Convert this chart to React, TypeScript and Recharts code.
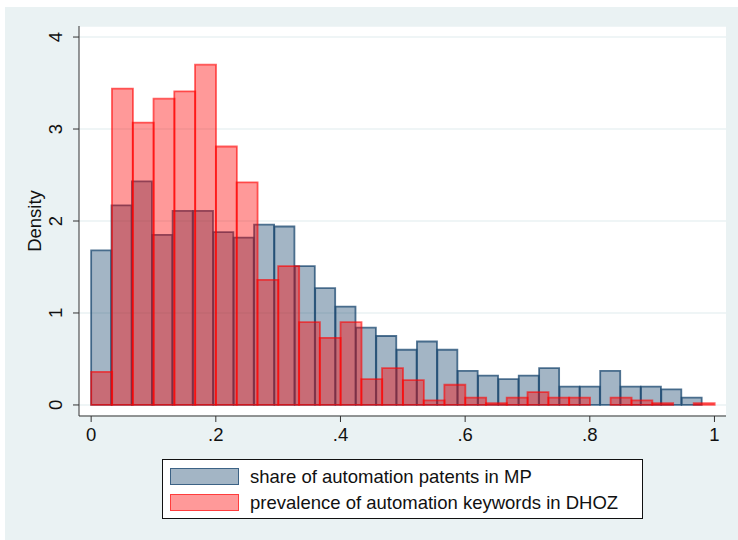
import { ComposedChart, Bar, XAxis, YAxis, CartesianGrid } from "recharts"

// bin midpoints and densities
const mpMid = [
  0.0163, 0.049, 0.0817, 0.1143, 0.147, 0.1797, 0.2123, 0.245, 0.2777, 0.3103,
  0.343, 0.3757, 0.4083, 0.441, 0.4737, 0.5063, 0.539, 0.5717, 0.6043, 0.637,
  0.6697, 0.7023, 0.735, 0.7677, 0.8003, 0.833, 0.8657, 0.8983, 0.931, 0.9637,
]
const mpDensity = [
  1.68, 2.17, 2.43, 1.85, 2.11, 2.11, 1.88, 1.82, 1.96, 1.94,
  1.51, 1.27, 1.07, 0.84, 0.75, 0.6, 0.69, 0.6, 0.37, 0.32,
  0.28, 0.32, 0.4, 0.2, 0.2, 0.37, 0.2, 0.2, 0.17, 0.08,
]
const dhozMid = [
  0.0167, 0.05, 0.0833, 0.1167, 0.15, 0.1833, 0.2167, 0.25, 0.2833, 0.3167,
  0.35, 0.3833, 0.4167, 0.45, 0.4833, 0.5167, 0.55, 0.5833, 0.6167, 0.65,
  0.6833, 0.7167, 0.75, 0.7833, 0.8167, 0.85, 0.8833, 0.9167, 0.95, 0.9833,
]
const dhozDensity = [
  0.36, 3.44, 3.07, 3.33, 3.41, 3.7, 2.81, 2.42, 1.36, 1.51,
  0.9, 0.73, 0.9, 0.28, 0.4, 0.27, 0.05, 0.22, 0.08, 0.02,
  0.08, 0.14, 0.08, 0.08, 0, 0.08, 0.05, 0.02, 0, 0.02,
]
const xTicks = [0, 0.2, 0.4, 0.6, 0.8, 1]
const yTicks = [0, 1, 2, 3, 4]
const legendLabels = ["share of automation patents in MP", "prevalence of automation keywords in DHOZ"]

const data = mpMid.map((x, i) => ({ xb: x, mp: mpDensity[i], xr: dhozMid[i], dhoz: dhozDensity[i] }))

const font = "'Liberation Sans', Arial, sans-serif"
const navy = "#1A476F"
const red = "#FF0000"

const fmtX = (v: number) => (v === 0 ? "0" : v === 1 ? "1" : String(v).replace("0.", "."))

const YTick = (p: any) => (
  <text
    transform={`translate(${p.x},${p.y}) rotate(-90)`}
    textAnchor="middle"
    fontSize={18.5}
    fontFamily={font}
    fill="#111"
  >
    {p.payload.value}
  </text>
)

const DensityLabel = (p: any) => {
  const vb = p.viewBox
  const cx = vb.x + 40.5
  const cy = vb.y + vb.height / 2
  return (
    <text transform={`translate(${cx},${cy}) rotate(-90)`} textAnchor="middle" fontSize={18.5} fontFamily={font} fill="#111">
      Density
    </text>
  )
}

export default function App() {
  return (
    <div style={{ position: "absolute", left: 0, top: 0, width: 738, height: 540, background: "#fff", fontFamily: font }}>
      <div style={{ position: "absolute", left: 5, top: 7, width: 733, height: 533, background: "#EAF2F3" }} />
      <ComposedChart
        width={738}
        height={540}
        data={data}
        margin={{ top: 26, right: 12, bottom: 94, left: 0 }}
        barCategoryGap={0}
        barGap={0}
        style={{ position: "absolute", left: 0, top: 0 }}
      >
        <CartesianGrid vertical={false} fill="#fff" stroke="#EAF2F3" strokeWidth={1.5} />
        <XAxis
          dataKey="xb"
          type="number"
          domain={[-0.0195, 1.0185]}
          ticks={xTicks}
          tickFormatter={fmtX}
          height={30}
          tickSize={6}
          tickMargin={6}
          axisLine={{ stroke: "#333" }}
          tickLine={{ stroke: "#333" }}
          tick={{ fill: "#111", fontSize: 18.5, fontFamily: font }}
          allowDataOverflow
        />
        <XAxis xAxisId="r" dataKey="xr" type="number" domain={[-0.0195, 1.0185]} hide allowDataOverflow />
        <YAxis
          type="number"
          domain={[-0.12, 4.12]}
          ticks={yTicks}
          width={79}
          tickSize={6}
          tickMargin={11}
          axisLine={{ stroke: "#333" }}
          tickLine={{ stroke: "#333" }}
          tick={YTick}
          label={{ content: DensityLabel }}
          allowDataOverflow
        />
        <Bar
          dataKey="mp"
          fill={navy}
          fillOpacity={0.4}
          stroke={navy}
          strokeOpacity={0.75}
          strokeWidth={1.8}
          isAnimationActive={false}
        />
        <Bar
          dataKey="dhoz"
          xAxisId="r"
          fill={red}
          fillOpacity={0.4}
          stroke={red}
          strokeOpacity={0.6}
          strokeWidth={1.8}
          isAnimationActive={false}
        />
      </ComposedChart>
      <div
        style={{
          position: "absolute",
          left: 162,
          top: 459,
          width: 479,
          height: 58,
          background: "#fff",
          border: "1px solid #111",
        }}
      >
        {legendLabels.map((lab, i) => (
          <div key={lab} style={{ position: "absolute", left: 7, top: 8 + i * 25.5, height: 17, display: "flex", alignItems: "center" }}>
            <div
              style={{
                width: 67,
                height: 15,
                background: i === 0 ? "rgba(26,71,111,0.4)" : "rgba(255,0,0,0.4)",
                border: i === 0 ? "1.5px solid rgba(26,71,111,0.75)" : "1.5px solid rgba(255,0,0,0.6)",
              }}
            />
            <span style={{ marginLeft: 11, fontSize: 18.5, color: "#111", lineHeight: "17px", whiteSpace: "nowrap" }}>{lab}</span>
          </div>
        ))}
      </div>
    </div>
  )
}
